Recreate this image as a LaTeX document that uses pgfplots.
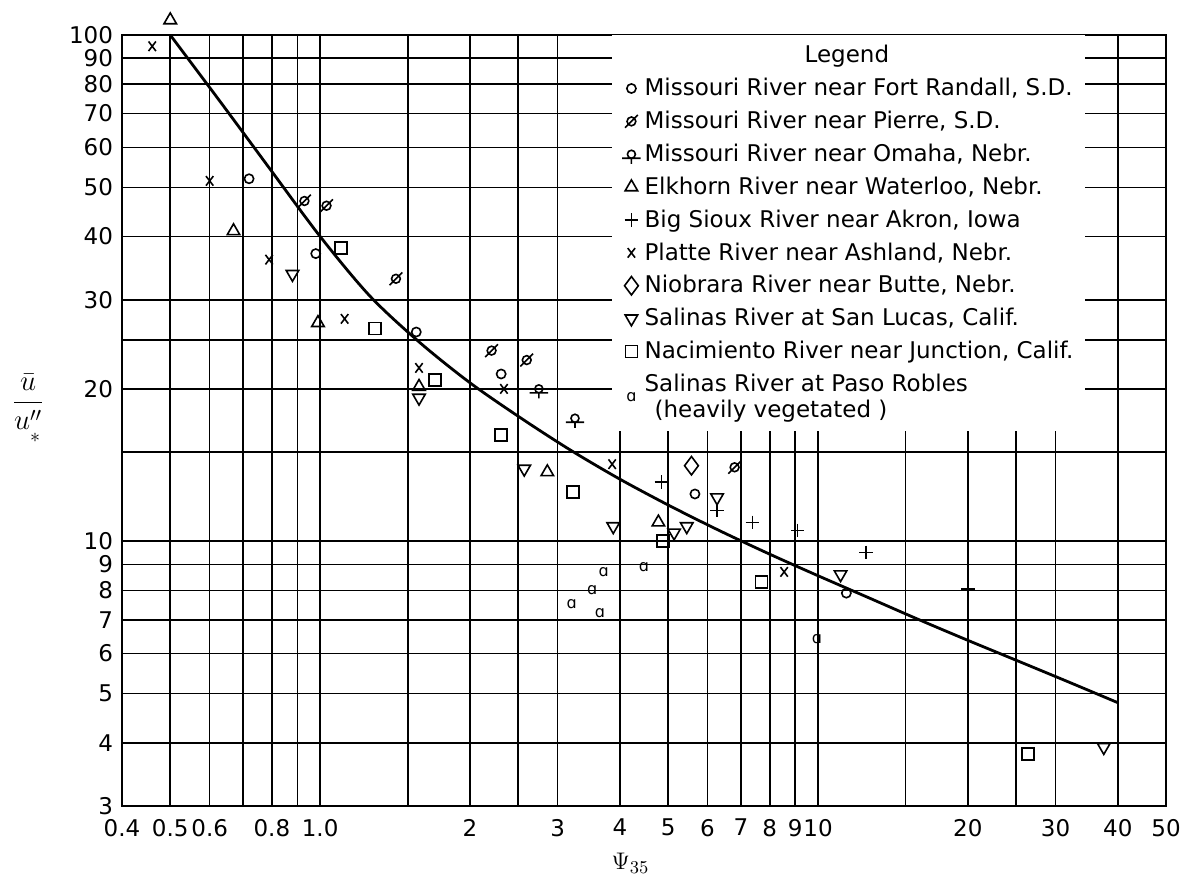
\documentclass[border=0pt]{standalone}
\usepackage{pgfplots}
\pgfplotsset{compat=1.18}
\usepackage{amsmath}
\usepackage{fontspec}
\setmainfont{DejaVu Sans}
\usetikzlibrary{plotmarks}

\pgfdeclareplotmark{oslash}{%
  \pgfpathcircle{\pgfpoint{0pt}{0pt}}{\pgfplotmarksize}%
  \pgfpathmoveto{\pgfpoint{-1.45\pgfplotmarksize}{-1.45\pgfplotmarksize}}%
  \pgfpathlineto{\pgfpoint{1.45\pgfplotmarksize}{1.45\pgfplotmarksize}}%
  \pgfusepathqstroke}
\pgfdeclareplotmark{omaha}{%
  \pgfpathcircle{\pgfpoint{0pt}{0pt}}{\pgfplotmarksize}%
  \pgfpathmoveto{\pgfpoint{-2.3\pgfplotmarksize}{-\pgfplotmarksize}}%
  \pgfpathlineto{\pgfpoint{2.3\pgfplotmarksize}{-\pgfplotmarksize}}%
  \pgfpathmoveto{\pgfpoint{0pt}{-\pgfplotmarksize}}%
  \pgfpathlineto{\pgfpoint{0pt}{-2.4\pgfplotmarksize}}%
  \pgfusepathqstroke}

\begin{document}
\begin{tikzpicture}
\begin{axis}[
  xmode=log, ymode=log,
  scale only axis, width=522pt, height=385.5pt,
  xmin=0.4, xmax=50, ymin=3, ymax=100,
  axis line style={line width=1.4pt},
  xtick={0.4,0.5,0.6,0.7,0.8,0.9,1,1.5,2,2.5,3,4,5,6,7,8,9,10,15,20,25,30,40,50},
  xticklabels={0.4,0.5,0.6,,0.8,,1.0,,2,,3,4,5,6,7,8,9,10,,20,,30,40,50},
  ytick={3,4,5,6,7,8,9,10,15,20,25,30,40,50,60,70,80,90,100},
  yticklabels={3,4,5,6,7,8,9,10,,20,,30,40,50,60,70,80,90,100},
  minor xtick={}, minor ytick={},
  grid=major,
  major grid style={black, line width=0.8pt},
  tick style={draw=none},
  major tick length=0pt,
  tick label style={font=\fontsize{11.5}{13}\selectfont},
  xticklabel style={yshift=-3pt},
  yticklabel style={xshift=-1pt},
  clip=false,
  every axis y label/.style={at={(axis description cs:-0.09,0.516)}, anchor=center},
  ylabel={\Large$\dfrac{\bar{u}}{u^{\prime\prime}_{\raisebox{-3pt}{$\scriptstyle *$}}}$},
  every axis x label/.style={at={(axis description cs:0.487,-0.074)}, anchor=center},
  xlabel={\fontsize{13}{15}\selectfont$\Psi_{35}$},
  legend cell align=left,
  legend style={at={(rel axis cs:0.469,1)}, anchor=north west,
    fill=white, draw=none, font=\fontsize{11.5}{13}\selectfont,
    row sep=2.2pt, inner xsep=4pt, inner ysep=3pt,
    cells={anchor=west, align=left}},
  legend image code/.code={\draw[mark repeat=2,mark phase=2,#1] plot coordinates {(0cm,0cm) (0.2cm,0cm) (0.4cm,0cm)};},
]
% fitted curve
\addplot[line width=1.4pt, smooth, forget plot] coordinates {
 (0.5,100) (0.631,73.7) (0.794,54.3) (1.0,40) (1.259,30.5) (1.585,24.7)
 (1.995,20.6) (2.512,17.6) (3.162,15.2) (3.981,13.3) (5.012,11.78) (6.31,10.52)
 (7.943,9.46) (10,8.55) (12.59,7.75) (15.85,7.02) (19.95,6.38) (25.12,5.81)
 (31.62,5.29) (40,4.80)};

\addlegendimage{empty legend}
\addlegendentry{\hspace*{80pt}Legend}

% Missouri River near Fort Randall
\addplot[only marks, mark=o, mark size=2.3pt, line width=0.8pt] coordinates {
 (0.72,52) (0.98,37) (1.56,25.9) (2.31,21.4) (5.66,12.4) (11.4,7.9)};
\addlegendentry{Missouri River near Fort Randall, S.D.}
% Pierre
\addplot[only marks, mark=oslash, mark size=2.2pt, line width=0.8pt] coordinates {
 (0.93,47) (1.03,46) (1.42,33) (2.21,23.8) (2.6,22.8) (4.45,17.1) (6.8,14.0)};
\addlegendentry{Missouri River near Pierre, S.D.}
% Omaha
\addplot[only marks, mark=omaha, mark size=2.0pt, line width=0.8pt] coordinates {
 (2.75,20) (3.25,17.5)};
\addlegendentry{Missouri River near Omaha, Nebr.}
% Elkhorn
\addplot[only marks, mark=triangle, mark size=3.6pt, line width=0.8pt] coordinates {
 (0.5,107) (0.67,41) (0.99,27) (1.58,20.2) (2.86,13.7) (4.78,10.9)};
\addlegendentry{Elkhorn River near Waterloo, Nebr.}
% Big Sioux
\addplot[only marks, mark=+, mark size=3.4pt, line width=0.8pt] coordinates {
 (4.85,13.1) (6.27,11.5) (7.38,10.9) (9.1,10.5) (12.5,9.5) (20,8.05)};
\addlegendentry{Big Sioux River near Akron, Iowa}
% Platte
\addplot[only marks, mark=x, mark size=2.6pt, line width=0.8pt, mark options={yscale=1.3}] coordinates {
 (0.46,95) (0.6,51.5) (0.79,36) (1.12,27.5) (1.58,22) (2.34,20) (3.86,14.2) (8.55,8.7)};
\addlegendentry{Platte River near Ashland, Nebr.}
% Niobrara
\addplot[only marks, mark=diamond, mark size=4.6pt, line width=0.8pt] coordinates {
 (5.57,14.1)};
\addlegendentry{Niobrara River near Butte, Nebr.}
% Salinas River at San Lucas
\addplot[only marks, mark=triangle, mark size=3.6pt, line width=0.8pt, mark options={rotate=180}] coordinates {
 (0.88,33.7) (1.58,19.2) (2.57,13.9) (3.88,10.7) (5.14,10.4) (5.45,10.7) (6.27,12.2) (11.1,8.6) (37.5,3.92)};
\addlegendentry{Salinas River at San Lucas, Calif.}
% Nacimiento
\addplot[only marks, mark=square, mark size=3pt, line width=0.8pt] coordinates {
 (1.1,38) (1.29,26.3) (1.70,20.8) (2.31,16.2) (3.22,12.5) (4.88,10.0) (7.7,8.3) (26.4,3.8)};
\addlegendentry{Nacimiento River near Junction, Calif.}
% Paso Robles
\addplot[only marks, mark=text, text mark={\fontsize{8}{8}\selectfont ɑ}] coordinates {
 (3.2,7.5) (3.52,8.0) (3.65,7.2) (3.71,8.7) (4.47,8.9) (9.95,6.4)};
\addlegendentry{Salinas River at Paso Robles\\\hspace*{5pt}(heavily vegetated )}
\end{axis}
\pgfresetboundingbox
\path (-61pt,-35.5pt) rectangle (532pt,403pt);
\end{tikzpicture}
\end{document}
